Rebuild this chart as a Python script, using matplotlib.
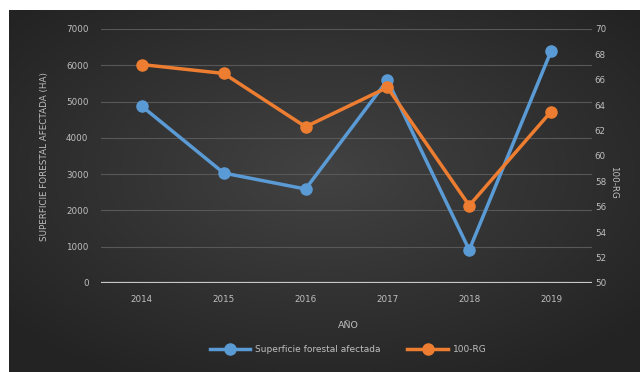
import numpy as np
import matplotlib
matplotlib.use("Agg")
import matplotlib.pyplot as plt

years = ["2014", "2015", "2016", "2017", "2018", "2019"]
superficie = [4870, 3030, 2590, 5590, 910, 6390]
rg = [67.2, 66.5, 62.3, 65.4, 56.1, 63.5]
left_ticks = [0, 1000, 2000, 3000, 4000, 5000, 6000, 7000]
right_ticks = [50, 52, 54, 56, 58, 60, 62, 64, 66, 68, 70]

W, H = 640, 372
fig = plt.figure(figsize=(W / 100, H / 100), dpi=100, facecolor="white")

# dark gradient background (offset by white margin top/left)
bx0, by0 = 9, 10
bg = fig.add_axes([bx0 / W, 0, 1 - bx0 / W, 1 - by0 / H])
yy, xx = np.mgrid[0:1:200j, 0:1:300j]
r = np.sqrt(((xx - 0.5) / 0.7) ** 2 + ((yy - 0.45) / 0.7) ** 2)
val = np.clip(0.26 - 0.13 * r, 0.14, 0.27)
img = np.dstack([val, val, val])
bg.imshow(img, aspect="auto", extent=[0, 1, 0, 1], interpolation="bilinear")
bg.set_axis_off()

txt = "#bfbfbf"
ax_l, ax_r = 101, 592
ax_t, ax_b = 29, 283
ax = fig.add_axes([ax_l / W, 1 - ax_b / H, (ax_r - ax_l) / W, (ax_b - ax_t) / H])
ax.patch.set_alpha(0)
x = np.arange(len(years))
ax.set_xlim(-0.5, len(years) - 0.5)
ax.set_ylim(0, 7000)
ax.set_yticks(left_ticks)
ax.set_yticklabels([str(t) for t in left_ticks])
ax.set_xticks(x)
ax.set_xticklabels(years)
ax.grid(axis="y", color="#585858", linewidth=0.8)
ax.set_axisbelow(True)
for s in ax.spines.values():
    s.set_visible(False)
ax.axhline(0, color="#c8c8c8", linewidth=1.6, zorder=1)
ax.tick_params(axis="both", length=0, colors=txt, labelsize=6.3)
ax.tick_params(axis="y", pad=9)
ax.tick_params(axis="x", pad=9)

ax2 = ax.twinx()
ax2.set_ylim(50, 70)
ax2.set_yticks(right_ticks)
ax2.set_yticklabels([str(t) for t in right_ticks])
for s in ax2.spines.values():
    s.set_visible(False)
ax2.tick_params(axis="y", length=0, colors=txt, labelsize=6.3, pad=2)

l1, = ax.plot(x, superficie, color="#5b9bd5", linewidth=2.5, marker="o",
              markersize=8, markerfacecolor="#5b9bd5", markeredgecolor="#5b9bd5",
              zorder=3, label="Superficie forestal afectada")
l2, = ax2.plot(x, rg, color="#ed7d31", linewidth=2.5, marker="o",
               markersize=8, markerfacecolor="#ed7d31", markeredgecolor="#ed7d31",
               zorder=3, label="100-RG")

fig.text(45 / W, 1 - 156 / H, "SUPERFICIE FORESTAL AFECTADA (HA)", rotation=90,
         ha="center", va="center", color=txt, fontsize=6.3)
fig.text(614 / W, 1 - 182 / H, "100-RG", rotation=-90,
         ha="center", va="center", color=txt, fontsize=6.3)
fig.text(348 / W, 1 - 326 / H, "AÑO", ha="center", va="center",
         color=txt, fontsize=6.8)

leg = fig.legend(handles=[l1, l2], loc="center", bbox_to_anchor=(348 / W, 1 - 350 / H),
                 ncol=2, frameon=False, fontsize=6.5, handlelength=4.5,
                 columnspacing=3, handletextpad=0.5)
for t in leg.get_texts():
    t.set_color(txt)

fig.savefig("out.png", dpi=100, facecolor="white")
